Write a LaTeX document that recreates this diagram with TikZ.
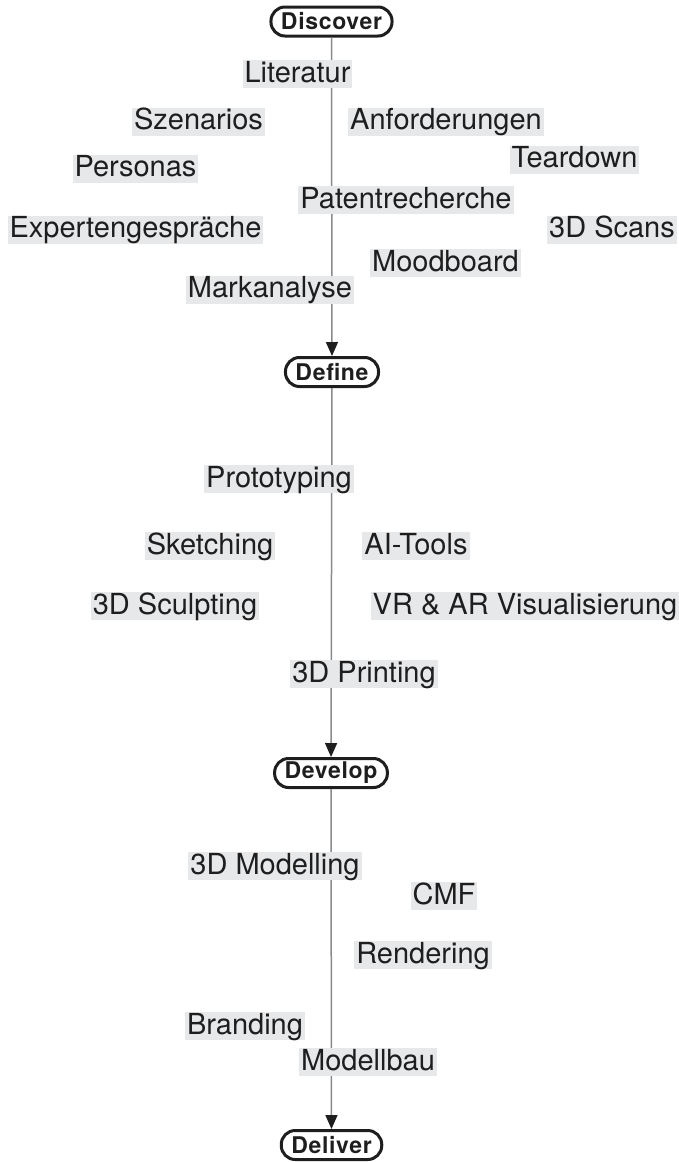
\documentclass[tikz,border=0pt]{standalone}
\usepackage{fontspec}
\setmainfont{TeX Gyre Heros}
\newfontfamily\stagefont[LetterSpace=3]{TeX Gyre Heros}
\usetikzlibrary{positioning,arrows.meta}
\definecolor{boxgray}{HTML}{E7E8EA}
\definecolor{linegray}{HTML}{8A8A8A}
\definecolor{ink}{HTML}{1E1E1E}

\begin{document}
\begin{tikzpicture}
[
   x=1pt, y=-1pt,
   every node/.style={text=ink}
]

\tikzset{phase/.style = {draw=ink, line width=3pt, rounded corners=14pt, minimum height=29pt,
   inner xsep=10pt, inner ysep=0pt, font={\stagefont\bfseries\fontsize{23}{23}\selectfont}}}
\tikzset{tag/.style = {fill=boxgray, inner xsep=2pt, inner ysep=0pt, text height=22pt,
   text depth=6pt, font={\fontsize{29}{29}\selectfont}}}
\tikzset{flow/.style = {draw=linegray, line width=1.5pt, -{Triangle[width=12pt,length=14pt,color=ink]}}}

\useasboundingbox (0,0) rectangle (678,1162);

% phases
\node[phase] (disc) at (331.5,21.5) {Discover};
\node[phase] (def) at (332,372) {Define};
\node[phase] (dev) at (331,773) {Develop};
\node[phase] (del) at (331.5,1145) {Deliver};

% arcs
\path
   (disc) edge[flow] (def)
   (def) edge[flow] (dev)
   (dev) edge[flow] (del)
;

% discover
\node[tag] (lit) at (297.5,74) {Literatur};
\node[tag] (szen) at (198.5,121.5) {Szenarios};
\node[tag] (anf) at (446,121.5) {Anforderungen};
\node[tag] (tear) at (574.5,159.5) {Teardown};
\node[tag] (pers) at (135.5,168.5) {Personas};
\node[tag] (pat) at (406,200) {Patentrecherche};
\node[tag] (exp) at (135.5,229.5) {Expertengespräche};
\node[tag] (scan) at (612,229.5) {3D Scans};
\node[tag] (mood) at (445.5,263) {Moodboard};
\node[tag] (mark) at (270,289.5) {Markanalyse};

% define
\node[tag] (proto) at (279,479) {Prototyping};
\node[tag] (sketch) at (210,546) {Sketching};
\node[tag] (ai) at (416,546) {AI-Tools};
\node[tag] (sculpt) at (175,606) {3D Sculpting};
\node[tag] (vr) at (525,606) {VR \& AR Visualisierung};
\node[tag] (print) at (364,674) {3D Printing};

% develop
\node[tag] (model) at (275,866) {3D Modelling};
\node[tag] (cmf) at (444,896) {CMF};
\node[tag] (rend) at (423,955) {Rendering};
\node[tag] (brand) at (245,1026) {Branding};
\node[tag] (bau) at (368,1062) {Modellbau};
\end{tikzpicture}
\end{document}
